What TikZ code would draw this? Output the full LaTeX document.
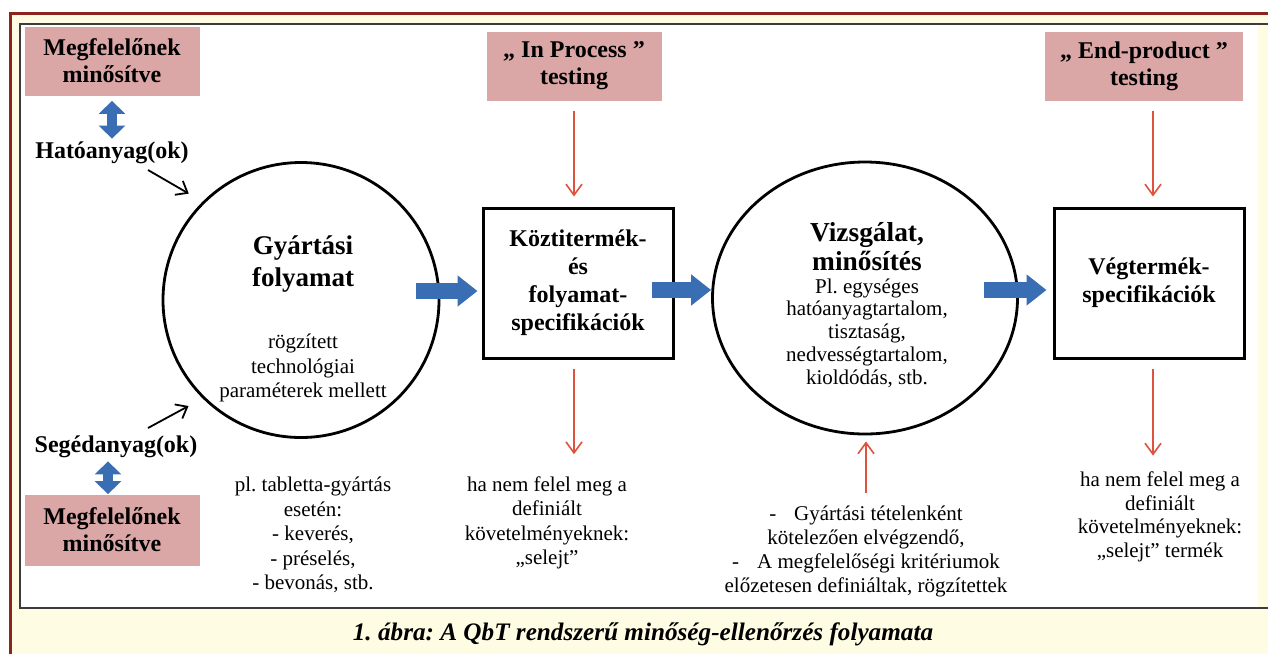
\documentclass[tikz,border=0pt]{standalone}
\usepackage{fontspec}
\setmainfont{Liberation Serif}
\usetikzlibrary{arrows.meta,shapes.geometric}
\frenchspacing
\definecolor{framered}{RGB}{140,36,30}
\definecolor{cream}{RGB}{255,252,228}
\definecolor{panelgrey}{RGB}{60,60,60}
\definecolor{pinkfill}{RGB}{218,166,166}
\definecolor{procblue}{RGB}{58,110,180}
\definecolor{testred}{RGB}{222,82,62}
\tikzset{
  pinkbox/.style={fill=pinkfill, minimum width=87.5pt, minimum height=34.5pt, align=center,
    font=\fontsize{12}{13.5}\selectfont\bfseries},
  inlabel/.style={inner sep=1pt, font=\fontsize{12}{13.5}\selectfont\bfseries},
  ring/.style={ellipse, draw, line width=1.4pt, inner sep=0pt},
  ringtitle/.style={align=center, inner sep=1pt, font=\fontsize{13.5}{16}\selectfont\bfseries},
  note/.style={align=center, inner sep=1pt, font=\fontsize{10.5}{12.25}\selectfont},
  specbox/.style={draw, line width=1.5pt, minimum width=95pt, minimum height=75pt, align=center,
    font=\fontsize{12}{14}\selectfont\bfseries},
  caption/.style={inner sep=1pt, font=\fontsize{12.6}{14}\selectfont\bfseries\itshape},
  bigarrow/.style={procblue, line width=8pt, -{Triangle[length=10pt,width=15pt]}},
  bothway/.style={procblue, line width=5pt,
    {Triangle[length=6.5pt,width=13pt]}-{Triangle[length=6.5pt,width=13pt]}},
  testarrow/.style={testred, line width=0.8pt, -{Straight Barb[length=5.5pt,width=8pt]}},
  inarrow/.style={black, line width=0.9pt, -{Straight Barb[length=5pt,width=8pt]}}
}

\begin{document}
\begin{tikzpicture}[x=0.5pt,y=-0.5pt]
	\useasboundingbox (0,0) rectangle (1268,654);
	% frame and panel
	\fill[white] (0,0) rectangle (1268,654);
	\fill[cream] (10,13) rectangle (1268,654);
	\fill[white] (20,24) rectangle (1258,608);
	\draw[framered, line width=1.5pt] (10,654) -- (10,13) -- (1268,13);
	\draw[panelgrey, line width=0.7pt] (1268,24) -- (20,24) -- (20,608) -- (1268,608);

	% raw materials
	\node[pinkbox] (mq1) at (112,61) {Megfelelőnek\\minősítve};
	\node[inlabel] (hat) at (112,153) {Hatóanyag(ok)};
	\node[inlabel] (seged) at (116,447) {Segédanyag(ok)};
	\node[pinkbox, minimum height=35.5pt] (mq2) at (112,530) {Megfelelőnek\\minősítve};

	% testing boxes
	\node[pinkbox] (inproc) at (574,66) {„ In Process ”\\testing};
	\node[pinkbox, minimum width=99pt] (endprod) at (1144,66) {„ End-product ”\\testing};

	% process steps
	\node[ring, minimum width=138pt, minimum height=137.5pt] (gyart) at (301,300) {};
	\node[ringtitle] (gyarttitle) at (303,264) {Gyártási\\folyamat};
	\node[note] (gyartnote) at (303,368) {rögzített\\technológiai\\paraméterek mellett};
	\node[note] (tabl) at (313,535) {pl. tabletta-gyártás\\esetén:\\- keverés,\\- préselés,\\- bevonás, stb.};

	\node[specbox] (kozti) at (578,283) {Köztitermék-\\és\\folyamat-\\specifikációk};
	\node[note] (hanem1) at (547,523) {ha nem felel meg a\\definiált\\követelményeknek:\\„selejt”};

	\node[ring, minimum width=152.5pt, minimum height=136pt] (vizsg) at (865,298) {};
	\node[ringtitle, font=\fontsize{13.7}{14.5}\selectfont\bfseries] (vizsgtitle) at (867,247) {Vizsgálat,\\minősítés};
	\node[note, font=\fontsize{10.5}{11.4}\selectfont] (vizsgnote) at (867,333) {Pl. egységes\\hatóanyagtartalom,\\tisztaság,\\nedvességtartalom,\\kioldódás, stb.};
	\node[note, font=\fontsize{10.5}{12}\selectfont] (kriter) at (866,551) {-\hspace{9pt}Gyártási tételenként\\kötelezően elvégzendő,\\-\hspace{9pt}A megfelelőségi kritériumok\\előzetesen definiáltak, rögzítettek};

	\node[specbox] (veg) at (1149,283) {Végtermék-\\specifikációk};
	\node[note, font=\fontsize{10.5}{11.8}\selectfont] (hanem2) at (1160,517) {ha nem felel meg a\\definiált\\követelményeknek:\\„selejt” termék};

	% caption
	\node[caption] (capt) at (643,634) {1. ábra: A QbT rendszerű minőség-ellenőrzés folyamata};

	% qualification arrows
	\draw[bothway, shorten <=2.5pt, shorten >=0.5pt] (mq1.south) -- (mq1.south |- hat.north);
	\draw[bothway, shorten <=0.5pt] ([xshift=-4pt]seged.south) -- ([xshift=-4pt]seged.south |- mq2.north);
	% inputs
	\draw[inarrow, shorten >=8pt] ([shift={(36,17)}]hat.center) -- (gyart.135);
	\draw[inarrow, shorten >=8pt] ([shift={(32,-19)}]seged.center) -- (gyart.225);
	% process flow
	\draw[bigarrow] ([shift={(-24,-9)}]gyart.east) -- ([shift={(-4,8)}]kozti.west);
	\draw[bigarrow] ([shift={(-23,7)}]kozti.east) -- ([shift={(0,-8)}]vizsg.west);
	\draw[bigarrow] ([shift={(-34.5,-8)}]vizsg.east) -- ([shift={(-6,7)}]veg.west);
	% testing
	\draw[testarrow, shorten <=5pt, shorten >=5pt] (inproc.south) -- (inproc.south |- kozti.north);
	\draw[testarrow, shorten <=4.5pt, shorten >=10pt] ([xshift=-2pt]kozti.south) -- ([xshift=-2pt]kozti.south |- hanem1.north);
	\draw[testarrow, shorten <=5pt, shorten >=3pt] (kriter.north) -- (kriter.north |- vizsg.south);
	\draw[testarrow, shorten <=5pt, shorten >=5pt] ([xshift=2pt]veg.north |- endprod.south) -- ([xshift=2pt]veg.north);
	\draw[testarrow, shorten <=4.5pt, shorten >=7pt] ([xshift=2pt]veg.south) -- ([xshift=2pt]veg.south |- hanem2.north);
\end{tikzpicture}
\end{document}
